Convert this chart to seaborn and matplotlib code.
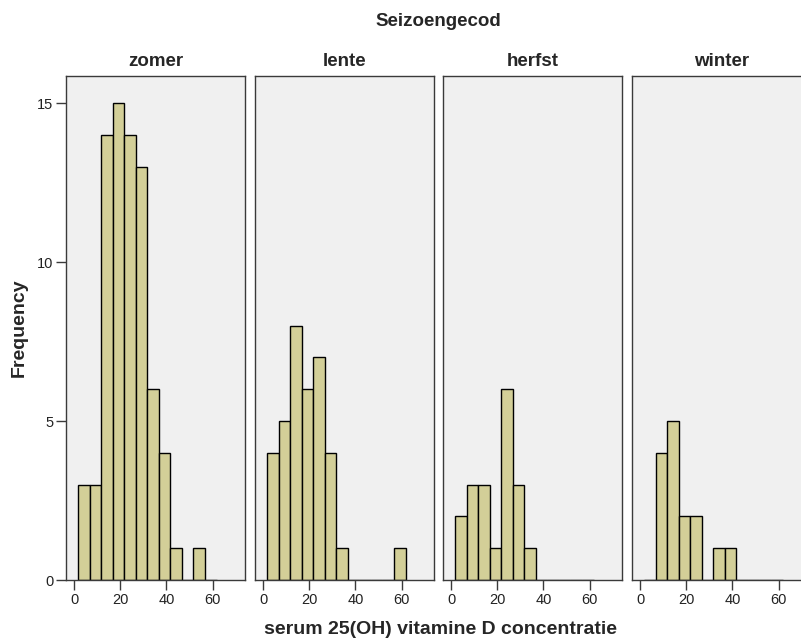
import matplotlib
matplotlib.use("Agg")
import matplotlib.pyplot as plt
import seaborn as sns
import numpy as np
import pandas as pd

# ---- data ----
seasons = ["zomer", "lente", "herfst", "winter"]
bin_edges = [1.7, 6.7, 11.7, 16.7, 21.7, 26.7, 31.7, 36.7, 41.7, 46.7, 51.7, 56.7, 61.7]
zomer_counts = [3, 3, 14, 15, 14, 13, 6, 4, 1, 0, 1, 0]
lente_counts = [4, 5, 8, 6, 7, 4, 1, 0, 0, 0, 0, 1]
herfst_counts = [2, 3, 3, 1, 6, 3, 1, 0, 0, 0, 0, 0]
winter_counts = [0, 4, 5, 2, 2, 0, 1, 1, 0, 0, 0, 0]
x_ticks = [0, 20, 40, 60]
y_ticks = [0, 5, 10, 15]

counts_by_season = {
    "zomer": zomer_counts,
    "lente": lente_counts,
    "herfst": herfst_counts,
    "winter": winter_counts,
}
centers = [(a + b) / 2 for a, b in zip(bin_edges[:-1], bin_edges[1:])]
rows = []
for s in seasons:
    for c, n in zip(centers, counts_by_season[s]):
        rows.append({"season": s, "value": c, "count": n})
df = pd.DataFrame(rows)

sns.set_theme(style="white")
plt.rcParams["font.family"] = ["Liberation Sans", "DejaVu Sans"]

W, H = 801, 639
fig = plt.figure(figsize=(W / 100, H / 100), dpi=100)

bar_color = "#D3CF98"
bg_color = "#F0F0F0"
spine_color = "#3A3A3A"

left_px = [66, 255, 443, 632]
panel_w = 179
top_px, bottom_px = 76, 580

axes = []
for i, s in enumerate(seasons):
    ax = fig.add_axes([left_px[i] / W, 1 - bottom_px / H, panel_w / W, (bottom_px - top_px) / H])
    axes.append(ax)
    sub = df[df["season"] == s]
    sns.histplot(data=sub, x="value", weights="count", bins=bin_edges, ax=ax,
                 color=bar_color, edgecolor="black", linewidth=1.0, alpha=1.0)
    ax.set_facecolor(bg_color)
    ax.set_xlim(-3.5, 74)
    ax.set_ylim(0, 15.85)
    ax.set_xticks(x_ticks)
    ax.set_xlabel("")
    ax.set_ylabel("")
    for sp in ax.spines.values():
        sp.set_color(spine_color)
        sp.set_linewidth(1.0)
    ax.tick_params(axis="x", bottom=True, direction="out", length=7, width=1,
                   color=spine_color, labelsize=10.5, labelcolor="#222222", pad=2)
    if i == 0:
        ax.set_yticks(y_ticks)
        ax.tick_params(axis="y", left=True, direction="out", length=7, width=1,
                       color=spine_color, labelsize=10.5, labelcolor="#222222", pad=2)
    else:
        ax.set_yticks(y_ticks)
        ax.tick_params(axis="y", left=False, labelleft=False)
    ax.set_title(s, fontsize=13.5, fontweight="bold", pad=7)

fig.text(438 / W, 1 - 21 / H, "Seizoengecod", ha="center", va="center",
         fontsize=13.5, fontweight="bold")
fig.text(440 / W, 1 - 630 / H, "serum 25(OH) vitamine D concentratie", ha="center",
         va="center", fontsize=14, fontweight="bold")
fig.text(19 / W, 1 - 328 / H, "Frequency", ha="center", va="center", rotation=90,
         fontsize=14, fontweight="bold")

fig.savefig("out.png", dpi=100)
